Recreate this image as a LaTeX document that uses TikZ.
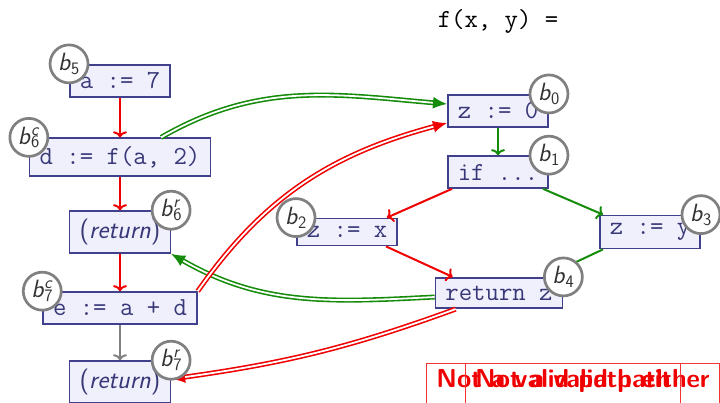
\documentclass[tikz,border=0pt]{standalone}
\usepackage{fontspec}
\usetikzlibrary{arrows.meta,calc}
\definecolor{bxfill}{RGB}{240,240,252}
\definecolor{bxdraw}{RGB}{64,64,140}
\definecolor{bxtext}{RGB}{56,56,120}
\definecolor{cfgred}{RGB}{240,0,0}
\definecolor{cfggreen}{RGB}{20,140,10}
\definecolor{circgray}{RGB}{128,128,128}
\begin{document}
\begin{tikzpicture}[x=1pt,y=-1pt,
  blk/.style={draw=bxdraw, fill=bxfill, line width=1.6pt, text=bxtext,
    font=\ttfamily\fontsize{26}{30}\selectfont, inner xsep=10pt, inner ysep=8pt},
  retblk/.style={blk, font=\sffamily\fontsize{26}{30}\selectfont},
  tag/.style={circle, draw=circgray, line width=2.7pt, fill=white, minimum size=38pt,
    inner sep=0pt, text=black!80, font=\sffamily\fontsize{25}{25}\selectfont},
  redflow/.style={draw=cfgred, line width=2pt, -{To[length=6pt,width=14pt]}},
  greenflow/.style={draw=cfggreen, line width=2pt, -{To[length=6pt,width=14pt]}},
  grayflow/.style={draw=circgray, line width=2pt, -{To[length=6pt,width=14pt]}},
  ipred/.style={draw=cfgred, double=white, double distance=1.8pt, line width=1.6pt,
    -{Latex[length=14pt,width=12pt]}},
  ipgreen/.style={draw=cfggreen, double=white, double distance=1.8pt, line width=1.6pt,
    -{Latex[length=14pt,width=12pt]}},
  nvbox/.style={draw=cfgred!80, line width=0.8pt, text=cfgred,
    font=\sffamily\bfseries\fontsize{26}{30}\selectfont, anchor=north,
    inner xsep=10pt, inner ysep=6pt, text depth=16pt}
]
\useasboundingbox (0,0) rectangle (720,403);
\clip (0,0) rectangle (720,403);

\node[font=\ttfamily\fontsize{26}{26}\selectfont, anchor=base] (title) at (498,28) {f(x, y) =};

% blocks
\node[blk] (b5) at (120,81) {a := 7};
\node[blk] (b6c) at (120,157) {d := f(a, 2)};
\node[retblk] (b6r) at (120,232) {(\textit{return})};
\node[blk] (b7c) at (120,308) {e := a + d};
\node[retblk] (b7r) at (120,382) {(\textit{return})};
\node[blk] (b0) at (498,111) {z := 0};
\node[blk] (b1) at (498,172) {if ...};
\node[blk] (b2) at (347,232) {z := x};
\node[blk] (b3) at (650,232) {z := y};
\node[blk] (b4) at (499,293) {return z};

% intraprocedural edges
\draw[redflow] (b5) -- (b6c);
\draw[redflow] (b6c) -- (b6r);
\draw[redflow] (b6r) -- (b7c);
\draw[grayflow] (b7c) -- (b7r);
\draw[greenflow] (b0) -- (b1);
\draw[redflow] ([xshift=5pt]b1.south west) -- ([xshift=-11pt]b2.north east);
\draw[greenflow] ([xshift=-6pt]b1.south east) -- ([xshift=4pt]b3.north west);
\draw[redflow] ([xshift=-12pt]b2.south east) -- ([xshift=18pt]b4.north west);
\draw[greenflow] ([xshift=4pt]b3.south west) -- ([xshift=-19pt]b4.north east);

% interprocedural edges
\draw[ipgreen] ([xshift=-50pt]b6c.north east) to[out=30,in=175] ([yshift=7pt]b0.west);
\draw[ipgreen] ([yshift=-4pt]b4.west) to[out=183,in=-30] (b6r.south east);
\draw[ipred] (b7c.north east) to[out=55,in=195] ([yshift=-12pt]b0.west);
\draw[ipred] ([xshift=21pt]b4.south west) to[out=200,in=8] ([yshift=3pt]b7r.east);

% tags
\node[tag] (t5) at (b5.north west) {\textit{b}\textsubscript{5}};
\node[tag] (t6c) at (b6c.north west) {\textit{b}\rlap{\textsuperscript{\textit{c}}}\textsubscript{6}};
\node[tag] (t6r) at (b6r.north east) {\textit{b}\rlap{\textsuperscript{\textit{r}}}\textsubscript{6}};
\node[tag] (t7c) at (b7c.north west) {\textit{b}\rlap{\textsuperscript{\textit{c}}}\textsubscript{7}};
\node[tag] (t7r) at (b7r.north east) {\textit{b}\rlap{\textsuperscript{\textit{r}}}\textsubscript{7}};
\node[tag] (t0) at (b0.north east) {\textit{b}\textsubscript{0}};
\node[tag] (t1) at (b1.north east) {\textit{b}\textsubscript{1}};
\node[tag] (t2) at (b2.north west) {\textit{b}\textsubscript{2}};
\node[tag] (t3) at (b3.north east) {\textit{b}\textsubscript{3}};
\node[tag] (t4) at (b4.north east) {\textit{b}\textsubscript{4}};

% overlaid messages
\node[nvbox] (nv1) at (573,363) {Not a valid path either};
\node[nvbox] (nv2) at (573,363) {Not a valid path};
\end{tikzpicture}
\end{document}
